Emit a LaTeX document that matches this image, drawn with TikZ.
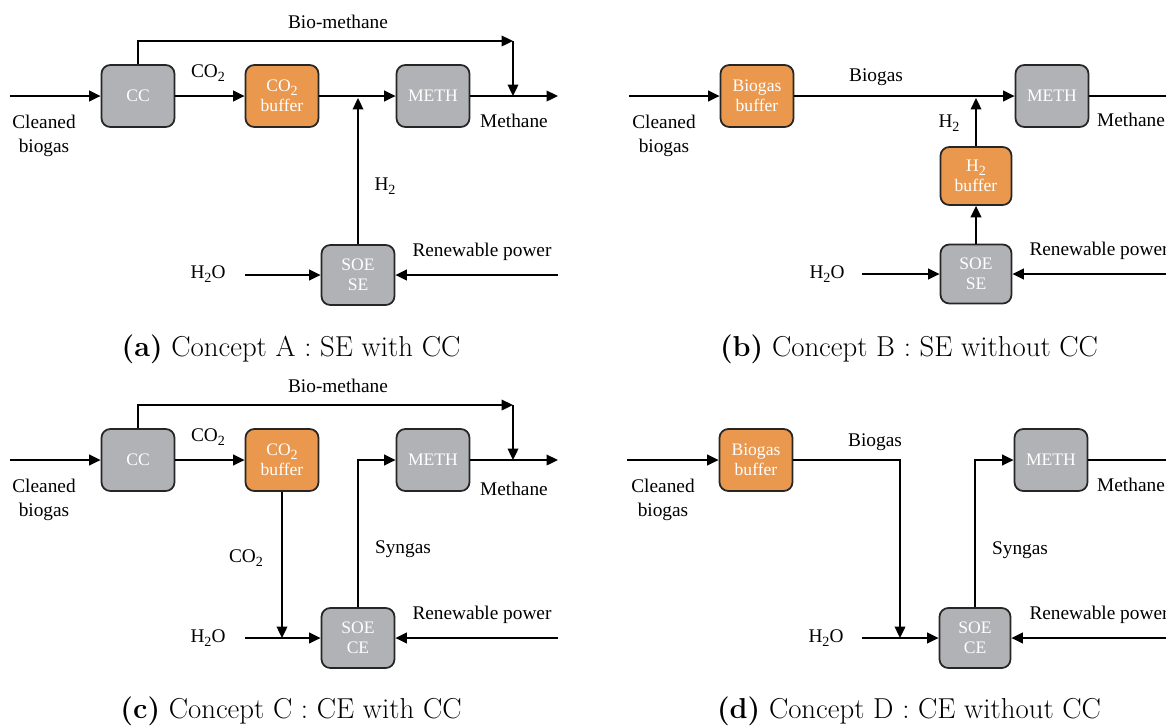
\documentclass[tikz,border=0pt]{standalone}
\usepackage{fontspec}
\usepackage{xcolor}
\usetikzlibrary{arrows.meta}
\usetikzlibrary{calc}
\newfontfamily\diagfont{Liberation Serif}
\definecolor{unitgray}{HTML}{B1B2B5}
\definecolor{bufferorange}{HTML}{E9984E}
\newcommand{\chsub}[1]{\raisebox{-0.5ex}{\fontsize{8}{8}\selectfont #1}}
\tikzset{
  unit/.style={draw=black!85, line width=1pt, rounded corners=5pt, fill=unitgray,
    minimum width=1.46cm, minimum height=1.24cm, inner sep=0pt, align=center,
    text=white, font=\diagfont\fontsize{10}{11.5}\selectfont},
  buf/.style={unit, fill=bufferorange},
  flow/.style={line width=1.1pt, -{Triangle[length=6.5pt,width=6pt]}},
  lbl/.style={align=center, font=\diagfont\fontsize{11}{13.5}\selectfont},
  capt/.style={font=\fontsize{16.4}{19}\selectfont}
}
\begin{document}
\begin{tikzpicture}[x=0.02cm, y=-0.02cm]
      \useasboundingbox (0,0) rectangle (1166,725);
      % (a)
      \node[unit] (ccA) at (138,96) {CC};
      \node[buf] (cobufA) at (282,96) {CO\chsub{2}\\buffer};
      \node[unit] (methA) at (433,96) {METH};
      \node[unit, minimum height=1.2cm] (soeA) at (358,275) {SOE\\SE};
      \coordinate (inA) at (10,96);
      \coordinate (outA) at (558,96);
      \coordinate (bypA) at (513,41);
      \coordinate (mixA) at (513,96);
      \coordinate (h2oA) at (245,275);
      \coordinate (powA) at (558,275);
      \draw[flow] (inA) -- (ccA);
      \draw[flow] (ccA) -- (cobufA);
      \draw[flow] (cobufA) -- (methA);
      \draw[flow] (methA) -- (outA);
      \draw[flow] (ccA.north) |- (bypA);
      \draw[flow] (bypA) -- (mixA);
      \draw[flow] (soeA.north) -- ($(soeA.north |- methA)+(0,2)$);
      \draw[flow] (h2oA) -- (soeA);
      \draw[flow] (powA) -- (soeA);
      \node[lbl] (cleanA) at (44,136) {Cleaned\\biogas};
      \node[lbl] (co2A) at (208,73) {CO\chsub{2}};
      \node[lbl] (bioA) at (338,22) {Bio-methane};
      \node[lbl] (metA) at (514,121) {Methane};
      \node[lbl] (h2A) at (385,186) {H\chsub{2}};
      \node[lbl] (wA) at (208,274) {H\chsub{2}O};
      \node[lbl] (renA) at (482,252) {Renewable power};
      \node[capt] (capA) at (291,349) {\textbf{(a)} Concept A : SE with CC};
      % (b)
      \node[buf] (bgbufB) at (757,96) {Biogas\\buffer};
      \node[unit] (methB) at (1052,96) {METH};
      \node[buf, minimum width=1.42cm, minimum height=1.16cm] (h2bufB) at (976,176) {H\chsub{2}\\buffer};
      \node[unit, minimum width=1.42cm, minimum height=1.18cm] (soeB) at (976,274) {SOE\\SE};
      \coordinate (inB) at (629,96);
      \coordinate (outB) at (1180,96);
      \coordinate (h2oB) at (862,274);
      \coordinate (powB) at (1180,274);
      \draw[flow] (inB) -- (bgbufB);
      \draw[flow] (bgbufB) -- (methB);
      \draw[flow] (methB) -- (outB);
      \draw[flow] (soeB) -- (h2bufB);
      \draw[flow] (h2bufB.north) -- ($(h2bufB.north |- methB)+(0,2)$);
      \draw[flow] (h2oB) -- (soeB);
      \draw[flow] (powB) -- (soeB);
      \node[lbl] (cleanB) at (664,136) {Cleaned\\biogas};
      \node[lbl] (gasB) at (876,77) {Biogas};
      \node[lbl] (h2B) at (949,123) {H\chsub{2}};
      \node[lbl] (metB) at (1131,120) {Methane};
      \node[lbl] (wB) at (827,274) {H\chsub{2}O};
      \node[lbl] (renB) at (1099,251) {Renewable power};
      \node[capt] (capB) at (909,349) {\textbf{(b)} Concept B : SE without CC};
      % (c)
      \node[unit] (ccC) at (138,460) {CC};
      \node[buf] (cobufC) at (282,460) {CO\chsub{2}\\buffer};
      \node[unit] (methC) at (433,460) {METH};
      \node[unit, minimum height=1.2cm] (soeC) at (358,638) {SOE\\CE};
      \coordinate (inC) at (10,460);
      \coordinate (outC) at (558,460);
      \coordinate (bypC) at (513,405);
      \coordinate (mixC) at (513,460);
      \coordinate (h2oC) at (245,638);
      \coordinate (powC) at (558,638);
      \draw[flow] (inC) -- (ccC);
      \draw[flow] (ccC) -- (cobufC);
      \draw[flow] (methC) -- (outC);
      \draw[flow] (ccC.north) |- (bypC);
      \draw[flow] (bypC) -- (mixC);
      \draw[flow] (cobufC.south) -- (cobufC |- h2oC);
      \draw[flow] (h2oC) -- (soeC);
      \draw[flow] (soeC.north) |- (methC.west);
      \draw[flow] (powC) -- (soeC);
      \node[lbl] (cleanC) at (44,500) {Cleaned\\biogas};
      \node[lbl] (co2C) at (208,437) {CO\chsub{2}};
      \node[lbl] (bioC) at (338,386) {Bio-methane};
      \node[lbl] (metC) at (514,489) {Methane};
      \node[lbl] (co2dC) at (246,558) {CO\chsub{2}};
      \node[lbl] (synC) at (403,549) {Syngas};
      \node[lbl] (wC) at (208,638) {H\chsub{2}O};
      \node[lbl] (renC) at (482,615) {Renewable power};
      \node[capt] (capC) at (291,711) {\textbf{(c)} Concept C : CE with CC};
      % (d)
      \node[buf] (bgbufD) at (756,460) {Biogas\\buffer};
      \node[unit] (methD) at (1051,460) {METH};
      \node[unit, minimum width=1.42cm, minimum height=1.2cm] (soeD) at (975,638) {SOE\\CE};
      \coordinate (inD) at (627,460);
      \coordinate (outD) at (1180,460);
      \coordinate (dropD) at (900,638);
      \coordinate (h2oD) at (862,638);
      \coordinate (powD) at (1180,638);
      \draw[flow] (inD) -- (bgbufD);
      \draw[flow] (bgbufD.east) -| (dropD);
      \draw[flow] (h2oD) -- (soeD);
      \draw[flow] (soeD.north) |- (methD.west);
      \draw[flow] (methD) -- (outD);
      \draw[flow] (powD) -- (soeD);
      \node[lbl] (cleanD) at (663,500) {Cleaned\\biogas};
      \node[lbl] (gasD) at (875,442) {Biogas};
      \node[lbl] (metD) at (1131,485) {Methane};
      \node[lbl] (synD) at (1020,550) {Syngas};
      \node[lbl] (wD) at (826,638) {H\chsub{2}O};
      \node[lbl] (renD) at (1099,615) {Renewable power};
      \node[capt] (capD) at (909,711) {\textbf{(d)} Concept D : CE without CC};
    \end{tikzpicture}
\end{document}
